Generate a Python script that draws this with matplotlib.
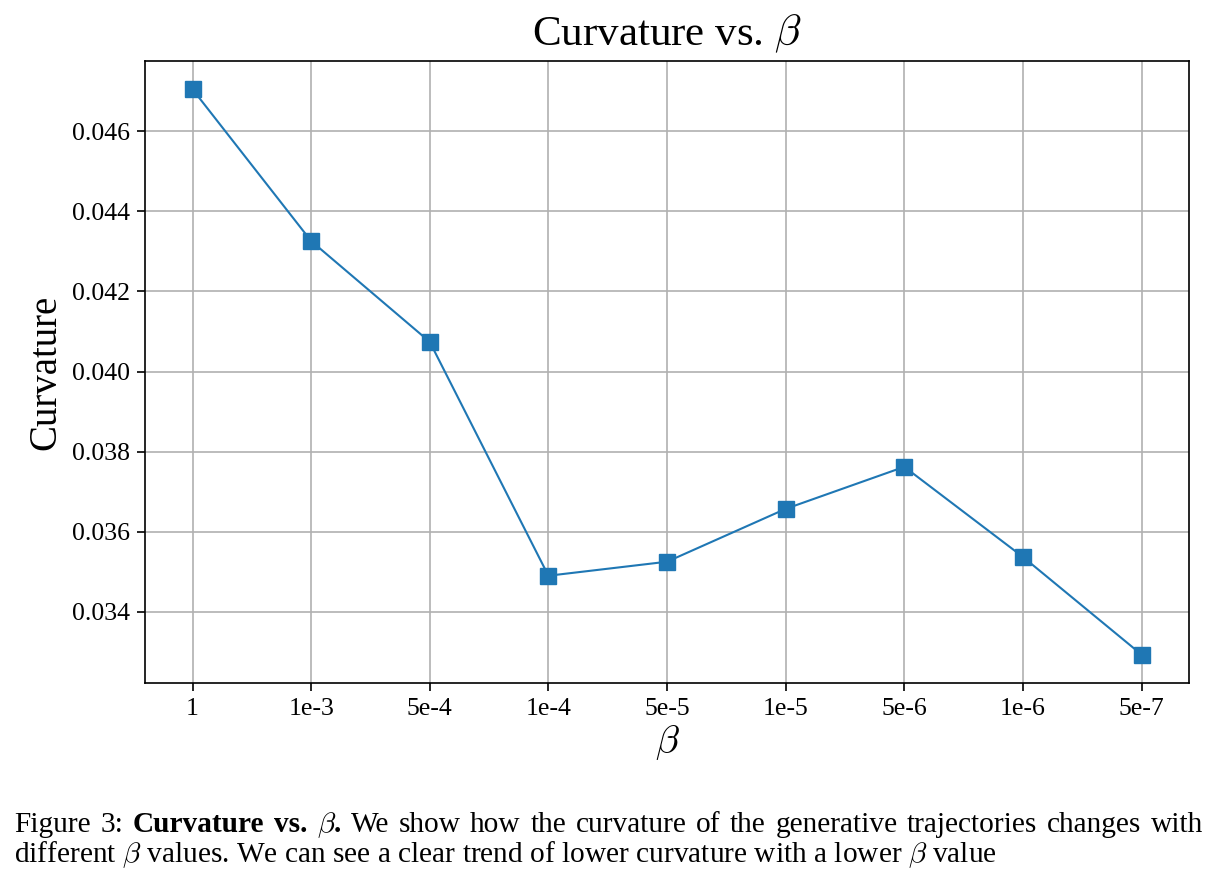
import numpy as np
import matplotlib.pyplot as plt

plt.rcParams['font.family'] = ['Liberation Serif', 'DejaVu Serif']
plt.rcParams['mathtext.fontset'] = 'cm'

# data
betas = ['1', '1e-3', '5e-4', '1e-4', '5e-5', '1e-5', '5e-6', '1e-6', '5e-7']
curvature = [0.04705, 0.04326, 0.04074, 0.03490, 0.03525,
             0.03657, 0.03762, 0.03537, 0.03293]
yticks = [0.034, 0.036, 0.038, 0.040, 0.042, 0.044, 0.046]

# caption, first line is justified like in the paper
line1_words = [('Figure', 'normal'), ('3:', 'normal'), ('Curvature', 'bold'),
               ('vs.', 'bold'), (r'$\beta$.', 'bold')] + \
    [(w, 'normal') for w in 'We show how the curvature of the generative trajectories changes with'.split()]
line2 = r'different $\beta$ values. We can see a clear trend of lower curvature with a lower $\beta$ value'

fig = plt.figure(figsize=(12.19, 8.88), dpi=100)
ax = fig.add_axes([0.119, 0.231, 0.8564, 0.7003])

x = np.arange(len(betas))
ax.plot(x, curvature, marker='s', markersize=11.5, color='tab:blue', linewidth=1.5)

ax.set_xticks(x)
ax.set_xticklabels(betas)
ax.set_yticks(yticks)
ax.set_yticklabels(['%.3f' % v for v in yticks])
ax.tick_params(labelsize=18.5, length=6, width=1.2, pad=5)
ax.grid(True, color='#b0b0b0', linewidth=1.2)
for s in ax.spines.values():
    s.set_linewidth(1.2)

ax.set_title(r'Curvature vs. $\beta$', fontsize=31, pad=11)
ax.set_xlabel(r'$\beta$', fontsize=28, labelpad=2)
ax.set_ylabel('Curvature', fontsize=28, labelpad=5)

# caption below the chart
cap = 21.2
left_px, right_px = 14, 1203
W, H = fig.get_size_inches() * fig.dpi
y1 = 1 - 832 / H
texts = [fig.text(0, y1, w, fontsize=cap, fontweight=fw, va='baseline') for w, fw in line1_words]
r = fig.canvas.get_renderer()
widths = [t.get_window_extent(r).width for t in texts]
gap = (right_px - left_px - sum(widths)) / (len(texts) - 1)
xpos = left_px
for t, w in zip(texts, widths):
    t.set_x(xpos / W)
    xpos += w + gap

fig.text(left_px / W, 1 - 862 / H, line2, fontsize=cap, va='baseline')

fig.savefig('out.png', dpi=100)
